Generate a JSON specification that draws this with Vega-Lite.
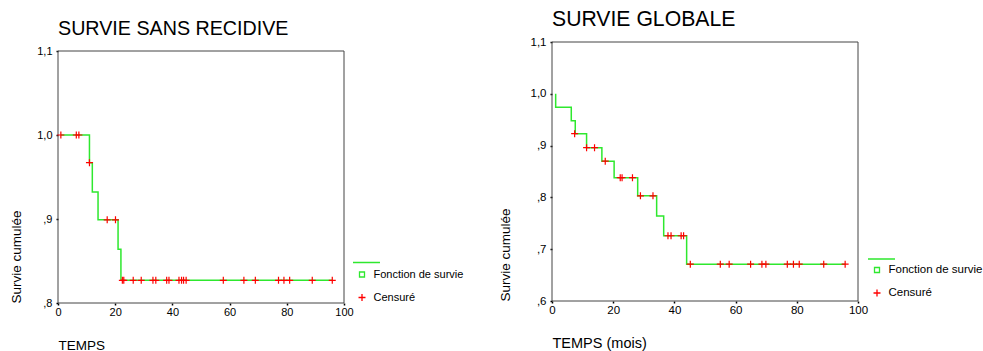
{
  "$schema": "https://vega.github.io/schema/vega-lite/v6.json",
  "background": "white",
  "padding": {"left": 9, "top": 8, "right": 0, "bottom": 0},
  "spacing": 208,
  "bounds": "flush",
  "resolve": {"scale": {"color": "independent", "shape": "independent"}, "legend": {"color": "independent", "shape": "independent"}},
  "datasets": {
    "l_line": [
      {"i": 0, "t": 1, "s": 1.0},
      {"i": 1, "t": 11, "s": 0.967},
      {"i": 2, "t": 12, "s": 0.932},
      {"i": 3, "t": 14, "s": 0.899},
      {"i": 4, "t": 21, "s": 0.864},
      {"i": 5, "t": 22, "s": 0.827},
      {"i": 6, "t": 95.9, "s": 0.827}
    ],
    "l_cens": [
      {"t": 1, "s": 1.0, "k": "Censuré"},
      {"t": 6.4, "s": 1.0, "k": "Censuré"},
      {"t": 7.3, "s": 1.0, "k": "Censuré"},
      {"t": 11, "s": 0.967, "k": "Censuré"},
      {"t": 17.2, "s": 0.899, "k": "Censuré"},
      {"t": 20.1, "s": 0.899, "k": "Censuré"},
      {"t": 22.5, "s": 0.827, "k": "Censuré"},
      {"t": 23, "s": 0.827, "k": "Censuré"},
      {"t": 26.3, "s": 0.827, "k": "Censuré"},
      {"t": 29.1, "s": 0.827, "k": "Censuré"},
      {"t": 33.2, "s": 0.827, "k": "Censuré"},
      {"t": 34.2, "s": 0.827, "k": "Censuré"},
      {"t": 38, "s": 0.827, "k": "Censuré"},
      {"t": 38.8, "s": 0.827, "k": "Censuré"},
      {"t": 42.3, "s": 0.827, "k": "Censuré"},
      {"t": 43.2, "s": 0.827, "k": "Censuré"},
      {"t": 43.9, "s": 0.827, "k": "Censuré"},
      {"t": 44.8, "s": 0.827, "k": "Censuré"},
      {"t": 57.8, "s": 0.827, "k": "Censuré"},
      {"t": 65, "s": 0.827, "k": "Censuré"},
      {"t": 69, "s": 0.827, "k": "Censuré"},
      {"t": 77.1, "s": 0.827, "k": "Censuré"},
      {"t": 79, "s": 0.827, "k": "Censuré"},
      {"t": 81, "s": 0.827, "k": "Censuré"},
      {"t": 88.9, "s": 0.827, "k": "Censuré"},
      {"t": 95.9, "s": 0.827, "k": "Censuré"}
    ],
    "r_line": [
      {"i": 0, "t": 1.2, "s": 1.0},
      {"i": 1, "t": 1.2, "s": 0.974},
      {"i": 2, "t": 6.3, "s": 0.948},
      {"i": 3, "t": 7.6, "s": 0.923},
      {"i": 4, "t": 11.3, "s": 0.896},
      {"i": 5, "t": 16.3, "s": 0.87},
      {"i": 6, "t": 20.3, "s": 0.838},
      {"i": 7, "t": 28, "s": 0.803},
      {"i": 8, "t": 34.2, "s": 0.764},
      {"i": 9, "t": 36.5, "s": 0.726},
      {"i": 10, "t": 44, "s": 0.671},
      {"i": 11, "t": 95.8, "s": 0.671}
    ],
    "r_cens": [
      {"t": 7.4, "s": 0.923, "k": "Censuré"},
      {"t": 11.3, "s": 0.896, "k": "Censuré"},
      {"t": 13.9, "s": 0.896, "k": "Censuré"},
      {"t": 17.4, "s": 0.87, "k": "Censuré"},
      {"t": 22.3, "s": 0.838, "k": "Censuré"},
      {"t": 22.9, "s": 0.838, "k": "Censuré"},
      {"t": 26.3, "s": 0.838, "k": "Censuré"},
      {"t": 28.9, "s": 0.803, "k": "Censuré"},
      {"t": 33, "s": 0.803, "k": "Censuré"},
      {"t": 37.9, "s": 0.726, "k": "Censuré"},
      {"t": 38.9, "s": 0.726, "k": "Censuré"},
      {"t": 42.2, "s": 0.726, "k": "Censuré"},
      {"t": 43, "s": 0.726, "k": "Censuré"},
      {"t": 45.2, "s": 0.671, "k": "Censuré"},
      {"t": 55, "s": 0.671, "k": "Censuré"},
      {"t": 57.9, "s": 0.671, "k": "Censuré"},
      {"t": 64.9, "s": 0.671, "k": "Censuré"},
      {"t": 68.6, "s": 0.671, "k": "Censuré"},
      {"t": 69.9, "s": 0.671, "k": "Censuré"},
      {"t": 76.9, "s": 0.671, "k": "Censuré"},
      {"t": 78.9, "s": 0.671, "k": "Censuré"},
      {"t": 80.8, "s": 0.671, "k": "Censuré"},
      {"t": 88.8, "s": 0.671, "k": "Censuré"},
      {"t": 95.8, "s": 0.671, "k": "Censuré"}
    ]
  },
  "hconcat": [
    {
      "width": 286,
      "height": 261,
      "title": {"text": "SURVIE SANS RECIDIVE", "anchor": "start", "frame": "group", "baseline": "alphabetic", "offset": -13, "fontSize": 19.7, "font": "Liberation Sans", "fontWeight": "normal", "color": "#000"},
      "layer": [
        {
          "data": {"values": [{}]},
          "mark": {"type": "rect", "filled": false, "color": "#444", "strokeWidth": 1},
          "encoding": {
            "x": {"datum": 0, "type": "quantitative", "scale": {"domain": [0, 100], "nice": false},
              "axis": {"values": [0, 20, 40, 60, 80, 100], "title": "TEMPS", "titleAnchor": "start", "titleAlign": "left", "titleX": 0, "titleY": 46, "titleBaseline": "alphabetic", "titleFontSize": 13.5, "labelFontSize": 11, "labelPadding": 1, "labelFlush": false}},
            "x2": {"datum": 100},
            "y": {"datum": 0.8, "type": "quantitative", "scale": {"domain": [0.8, 1.1], "nice": false, "zero": false, "range": [261, 9]},
              "axis": {"values": [0.8, 0.9, 1.0, 1.1], "title": "Survie cumulée", "titleAnchor": "start", "titleX": -41.5, "titleBaseline": "middle", "titleFontSize": 13.5, "labelFontSize": 11, "labelPadding": 4, "labelFlush": false, "labelExpr": "datum.value >= 1 ? replace(format(datum.value, '.1f'), '.', ',') : replace(format(datum.value, '.1f'), '0.', ',')"}},
            "y2": {"datum": 1.1}
          }
        },
        {
          "data": {"name": "l_line"},
          "mark": {"type": "line", "interpolate": "step-after", "color": "#2ee82e", "strokeWidth": 1.5},
          "encoding": {
            "x": {"field": "t", "type": "quantitative", "scale": {"domain": [0, 100], "nice": false}, "title": "TEMPS"},
            "y": {"field": "s", "type": "quantitative", "scale": {"domain": [0.8, 1.1], "nice": false, "zero": false, "range": [261, 9]}, "title": "Survie cumulée"},
            "order": {"field": "i"}
          }
        },
        {
          "data": {"name": "l_cens"},
          "mark": {"type": "point", "filled": false, "size": 441, "strokeWidth": 1.2, "opacity": 1},
          "encoding": {
            "x": {"field": "t", "type": "quantitative", "scale": {"domain": [0, 100], "nice": false}, "title": "TEMPS"},
            "y": {"field": "s", "type": "quantitative", "scale": {"domain": [0.8, 1.1], "nice": false, "zero": false, "range": [261, 9]}, "title": "Survie cumulée"},
            "shape": {"field": "k", "type": "nominal",
              "scale": {"domain": ["Fonction de survie", "Censuré"], "range": ["M-0.238,-0.238H0.238V0.238H-0.238ZM-0.857,-1.143H1.714", "M-0.333,0H0.333M0,-0.333V0.333"]},
              "legend": {"orient": "none", "legendX": 292.5, "legendY": 221, "title": null, "padding": 0, "symbolSize": 441, "rowPadding": 6, "labelOffset": 0, "labelFontSize": 11, "labelFont": "Liberation Sans", "labelColor": "#000", "symbolStrokeWidth": 1.3}},
            "color": {"field": "k", "type": "nominal",
              "scale": {"domain": ["Fonction de survie", "Censuré"], "range": ["#2ee82e", "#ff0000"]},
              "legend": {"orient": "none", "legendX": 292.5, "legendY": 221, "title": null, "padding": 0, "symbolSize": 441, "rowPadding": 6, "labelOffset": 0, "labelFontSize": 11, "labelFont": "Liberation Sans", "labelColor": "#000", "symbolStrokeWidth": 1.3}}
          }
        }
      ]
    },
    {
      "width": 306,
      "height": 259,
      "title": {"text": "SURVIE GLOBALE", "anchor": "start", "frame": "group", "baseline": "alphabetic", "offset": -11, "fontSize": 21.2, "font": "Liberation Sans", "fontWeight": "normal", "color": "#000"},
      "layer": [
        {
          "data": {"values": [{}]},
          "mark": {"type": "rect", "filled": false, "color": "#444", "strokeWidth": 1},
          "encoding": {
            "x": {"datum": 0, "type": "quantitative", "scale": {"domain": [0, 100], "nice": false},
              "axis": {"values": [0, 20, 40, 60, 80, 100], "title": "TEMPS (mois)", "titleAnchor": "start", "titleAlign": "left", "titleX": 0, "titleY": 46, "titleBaseline": "alphabetic", "titleFontSize": 14.5, "labelFontSize": 11.5, "labelPadding": 1, "labelFlush": false}},
            "x2": {"datum": 100},
            "y": {"datum": 0.6, "type": "quantitative", "scale": {"domain": [0.6, 1.1], "nice": false, "zero": false},
              "axis": {"values": [0.6, 0.7, 0.8, 0.9, 1.0, 1.1], "title": "Survie cumulée", "titleAnchor": "start", "titleX": -47, "titleBaseline": "middle", "titleFontSize": 13.5, "labelFontSize": 11.5, "labelPadding": 4, "labelFlush": false, "labelExpr": "datum.value >= 1 ? replace(format(datum.value, '.1f'), '.', ',') : replace(format(datum.value, '.1f'), '0.', ',')"}},
            "y2": {"datum": 1.1}
          }
        },
        {
          "data": {"name": "r_line"},
          "mark": {"type": "line", "interpolate": "step-after", "color": "#2ee82e", "strokeWidth": 1.5},
          "encoding": {
            "x": {"field": "t", "type": "quantitative", "scale": {"domain": [0, 100], "nice": false}, "title": "TEMPS (mois)"},
            "y": {"field": "s", "type": "quantitative", "scale": {"domain": [0.6, 1.1], "nice": false, "zero": false}, "title": "Survie cumulée"},
            "order": {"field": "i"}
          }
        },
        {
          "data": {"name": "r_cens"},
          "mark": {"type": "point", "filled": false, "size": 441, "strokeWidth": 1.2, "opacity": 1},
          "encoding": {
            "x": {"field": "t", "type": "quantitative", "scale": {"domain": [0, 100], "nice": false}, "title": "TEMPS (mois)"},
            "y": {"field": "s", "type": "quantitative", "scale": {"domain": [0.6, 1.1], "nice": false, "zero": false}, "title": "Survie cumulée"},
            "shape": {"field": "k", "type": "nominal",
              "scale": {"domain": ["Fonction de survie", "Censuré"], "range": ["M-0.238,-0.238H0.238V0.238H-0.238ZM-0.857,-1.048H1.714", "M-0.333,0H0.333M0,-0.333V0.333"]},
              "legend": {"orient": "none", "legendX": 313.5, "legendY": 216.5, "title": null, "padding": 0, "symbolSize": 441, "rowPadding": 6, "labelOffset": 0, "labelFontSize": 11.5, "labelFont": "Liberation Sans", "labelColor": "#000", "symbolStrokeWidth": 1.3}},
            "color": {"field": "k", "type": "nominal",
              "scale": {"domain": ["Fonction de survie", "Censuré"], "range": ["#2ee82e", "#ff0000"]},
              "legend": {"orient": "none", "legendX": 313.5, "legendY": 216.5, "title": null, "padding": 0, "symbolSize": 441, "rowPadding": 6, "labelOffset": 0, "labelFontSize": 11.5, "labelFont": "Liberation Sans", "labelColor": "#000", "symbolStrokeWidth": 1.3}}
          }
        }
      ]
    }
  ],
  "config": {
    "view": {"stroke": null},
    "font": "Liberation Sans",
    "axis": {"domain": false, "grid": false, "ticks": true, "tickColor": "#000", "tickSize": 2, "tickWidth": 1.5, "labelColor": "#000", "labelFont": "Liberation Sans", "titleFont": "Liberation Sans", "titleFontWeight": "normal", "titleColor": "#000"}
  }
}
